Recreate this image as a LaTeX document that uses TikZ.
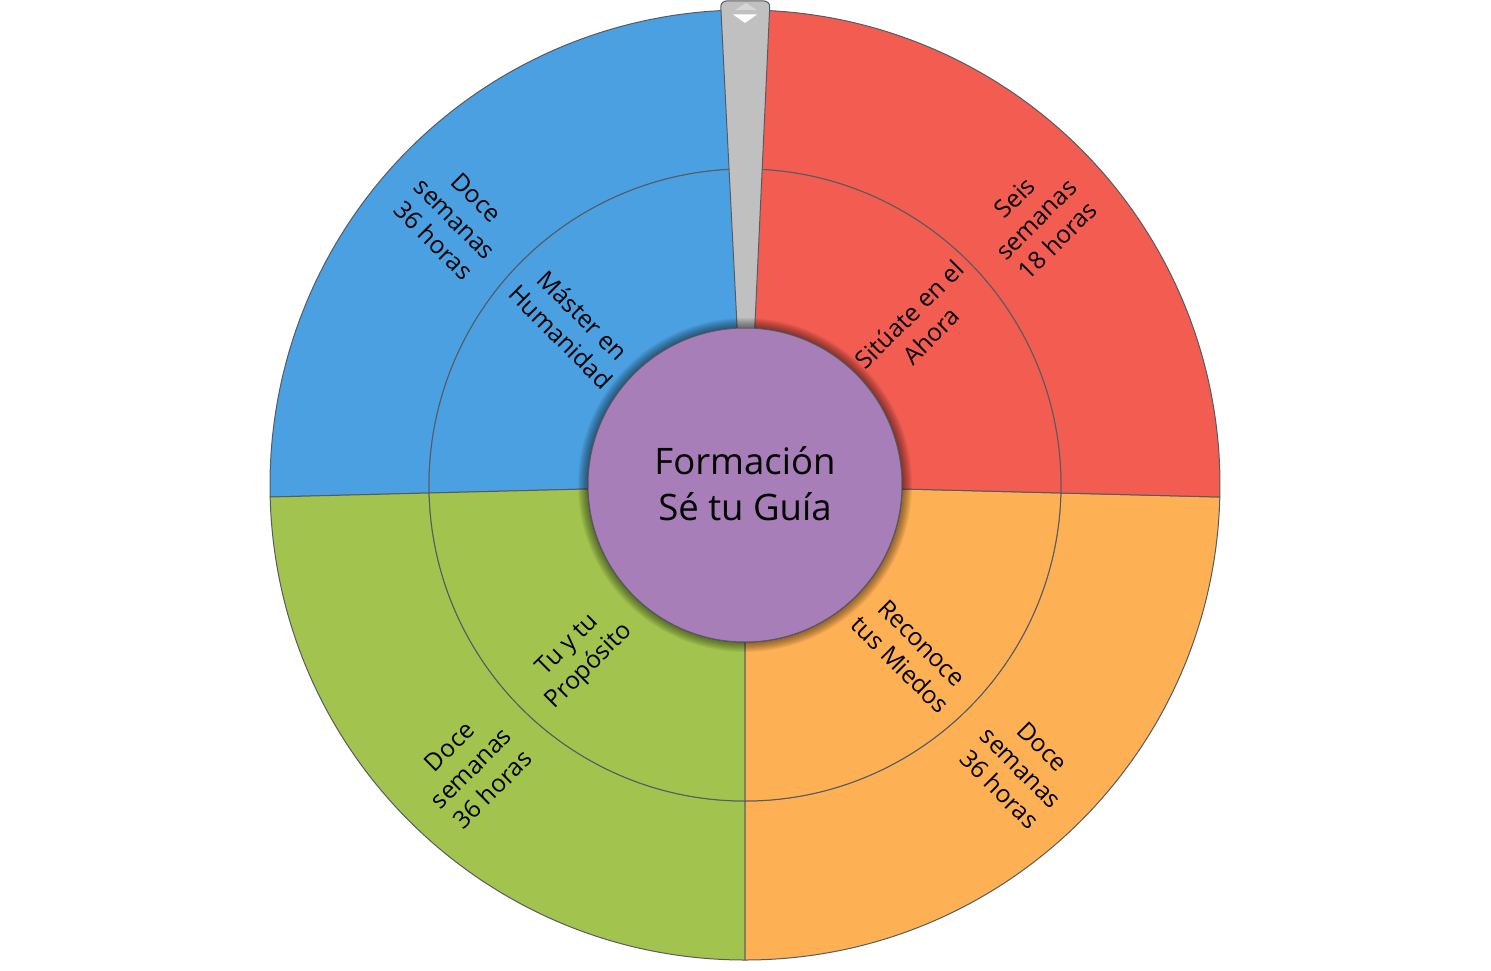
\documentclass[tikz,border=0pt]{standalone}
\usepackage{fontspec}
\setmainfont{Open Sans}
\definecolor{cblue}{HTML}{4AA0E0}
\definecolor{cred}{HTML}{F25C51}
\definecolor{corange}{HTML}{FEB055}
\definecolor{cgreen}{HTML}{A2C44E}
\definecolor{cpurple}{HTML}{A87EB9}
\definecolor{cline}{HTML}{565B63}
\definecolor{cpointer}{HTML}{C0C0C0}
\definecolor{ctriup}{HTML}{D6D6D6}
\newcommand\wheelpart[5]{% color, start, end, rin, rout
  \filldraw[wheelline, fill=#1] (#2:#4) -- (#2:#5) arc[start angle=#2, end angle=#3, radius=#5] -- (#3:#4) arc[start angle=#3, end angle=#2, radius=#4] -- cycle;}
\begin{document}
\begin{tikzpicture}[x=1pt,y=1pt,
  wheelline/.style={draw=cline, line width=1pt, line join=round},
  seglabel/.style={font=\fontsize{24.5}{30.5}\selectfont, align=center, text=black, inner sep=0pt},
  titlelabel/.style={font=\fontsize{36.5}{46}\selectfont, align=center, text=black, inner sep=0pt}]
\useasboundingbox (-745pt,-485pt) rectangle (746pt,485pt);
% segments
\wheelpart{cblue}{90}{181.45}{316pt}{475pt}
\wheelpart{cblue}{90}{181.45}{157pt}{316pt}
\wheelpart{cgreen}{181.45}{270}{316pt}{475pt}
\wheelpart{cgreen}{181.45}{270}{157pt}{316pt}
\wheelpart{corange}{270}{358.55}{316pt}{475pt}
\wheelpart{corange}{270}{358.55}{157pt}{316pt}
\wheelpart{cred}{-1.45}{90}{316pt}{475pt}
\wheelpart{cred}{-1.45}{90}{157pt}{316pt}
% pointer
\filldraw[wheelline, fill=cpointer, rounded corners=6pt] (-7pt,140pt) -- (-24.5pt,484pt) -- (25pt,484pt) -- (9pt,140pt) -- cycle;
\fill[ctriup] (1pt,482pt) -- (-10pt,475pt) -- (12pt,475pt) -- cycle;
\fill[white] (-12pt,470.5pt) -- (12pt,470.5pt) -- (0pt,462pt) -- cycle;
% shadow of hub
\foreach \k in {1,...,10} {\fill[black, opacity=0.05] (0,0) circle[radius=157pt+\k pt];}
% hub
\filldraw[wheelline, fill=cpurple] (0,0) circle[radius=157pt];
\node[titlelabel] (title) at (0pt,1pt) {Formación\\Sé tu Guía};
% labels
\node[seglabel, rotate=-45] (bout) at (-290pt,266pt) {Doce\\semanas\\36 horas};
\node[seglabel, rotate=-45] (bin) at (-173pt,159pt) {Máster en\\Humanidad};
\node[seglabel, rotate=45] (rout) at (291pt,266pt) {Seis\\semanas\\18 horas};
\node[seglabel, rotate=45] (rin) at (175pt,160pt) {Sitúate en el\\Ahora};
\node[seglabel, rotate=45] (gout) at (-274pt,-283pt) {Doce\\semanas\\36 horas};
\node[seglabel, rotate=45] (gin) at (-166pt,-171pt) {Tu y tu\\Propósito};
\node[seglabel, rotate=-45] (oout) at (276pt,-283pt) {Doce\\semanas\\36 horas};
\node[seglabel, rotate=-45] (oin) at (166pt,-169pt) {Reconoce\\tus Miedos};
\end{tikzpicture}
\end{document}
